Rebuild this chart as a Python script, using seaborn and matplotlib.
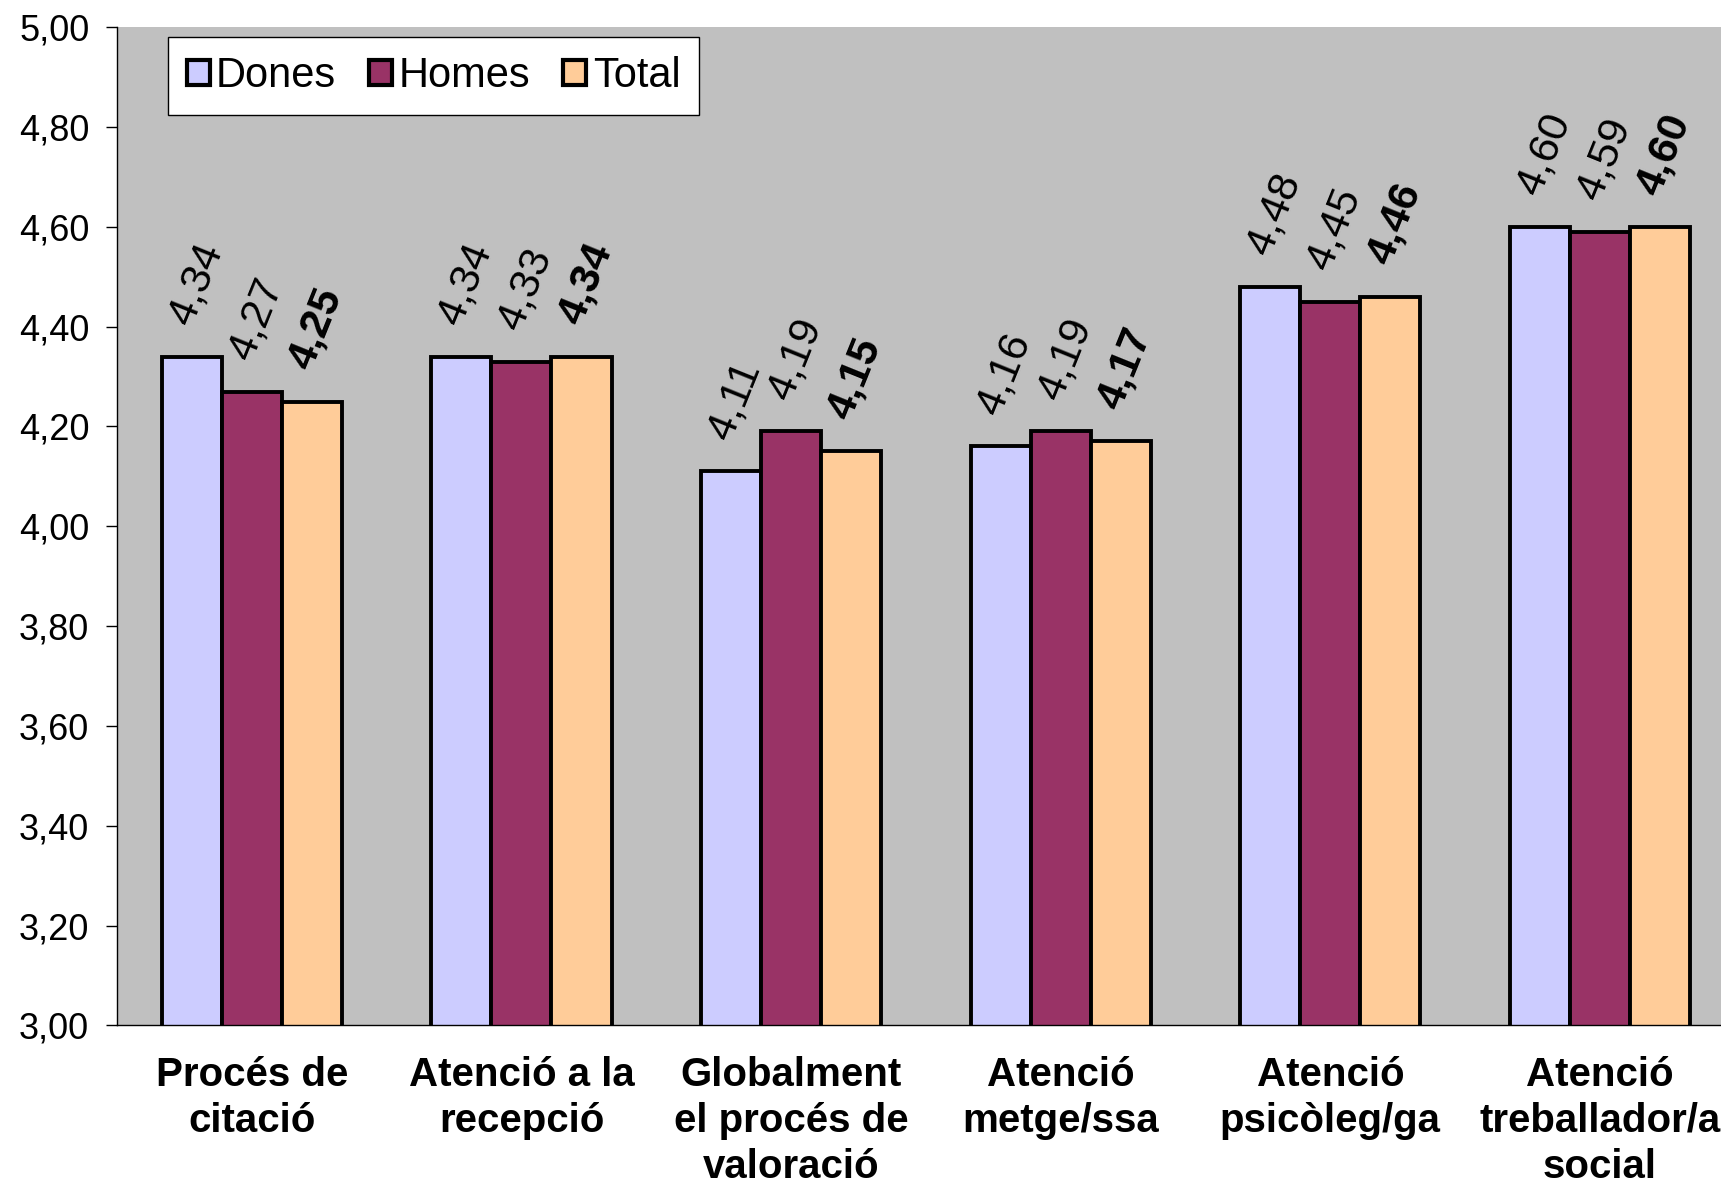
import numpy as np
import pandas as pd
import matplotlib
matplotlib.use("Agg")
import matplotlib.pyplot as plt
from matplotlib.patches import Patch
import seaborn as sns

# Values
categories = ["Procés de\ncitació", "Atenció a la\nrecepció", "Globalment\nel procés de\nvaloració",
              "Atenció\nmetge/ssa", "Atenció\npsicòleg/ga", "Atenció\ntreballador/a\nsocial"]
dones = [4.34, 4.34, 4.11, 4.16, 4.48, 4.60]
homes = [4.27, 4.33, 4.19, 4.19, 4.45, 4.59]
total = [4.25, 4.34, 4.15, 4.17, 4.46, 4.60]
series = ["Dones", "Homes", "Total"]
colors = ["#CCCCFF", "#993366", "#FFCC99"]
y_ticks = [3.0, 3.2, 3.4, 3.6, 3.8, 4.0, 4.2, 4.4, 4.6, 4.8, 5.0]

# Long form table for seaborn
df = pd.DataFrame({
    "cat": categories * 3,
    "serie": ["Dones"] * 6 + ["Homes"] * 6 + ["Total"] * 6,
    "valor": dones + homes + total,
})

sns.set_style("white")
plt.rcParams['font.family'] = ['Liberation Sans', 'DejaVu Sans']
plt.rcParams['text.color'] = 'black'
plt.rcParams['xtick.color'] = 'black'
plt.rcParams['ytick.color'] = 'black'

fig = plt.figure(figsize=(17.21, 11.84), dpi=100)
ax = fig.add_axes([0.068, 0.134, 0.940, 0.843])
ax.set_facecolor("#C0C0C0")

sns.barplot(data=df, x="cat", y="valor", hue="serie", order=categories, hue_order=series,
            palette=colors, saturation=1, width=0.668, gap=0, edgecolor="black",
            linewidth=2.8, legend=False, ax=ax, errorbar=None)

# Value labels, Total in bold
for cont, name in zip(ax.containers, series):
    for bar in cont:
        v = bar.get_height()
        ax.annotate(f"{v:.2f}".replace(".", ","),
                    xy=(bar.get_x() + bar.get_width() / 2, v),
                    xytext=(3, 19), textcoords="offset points",
                    ha="center", va="bottom", rotation=68, fontsize=31, color="black",
                    fontweight="bold" if name == "Total" else "normal")

ax.set_ylim(3, 5)
ax.set_xlim(-0.5, 5.5)
ax.set_yticks(y_ticks)
ax.set_yticklabels([f"{t:.2f}".replace(".", ",") for t in y_ticks], fontsize=26)
ax.set_xticks(range(len(categories)))
ax.set_xticklabels(categories, fontsize=29, fontweight="bold", linespacing=1.27)
ax.set_xticks(np.arange(-0.5, 6, 1), minor=True)
ax.tick_params(axis="x", which="major", length=0, pad=22)
ax.tick_params(axis="x", which="minor", length=9, width=1, direction="out", color="black")
ax.tick_params(axis="y", length=8, width=1, direction="out", color="black", pad=12, left=True)
ax.set_xlabel("")
ax.set_ylabel("")

for s in ["top", "right"]:
    ax.spines[s].set_visible(False)
for s in ["left", "bottom"]:
    ax.spines[s].set_color("black")
    ax.spines[s].set_linewidth(1)

handles = [Patch(facecolor=c, edgecolor="black", linewidth=3) for c in colors]
leg = ax.legend(handles, series, loc="upper left", bbox_to_anchor=(0.0315, 0.99),
                ncol=3, fontsize=30, frameon=True, fancybox=False, borderaxespad=0,
                handlelength=0.55, handleheight=0.55, handletextpad=0.15,
                columnspacing=0.8, borderpad=0.45)
leg.get_frame().set_edgecolor("black")
leg.get_frame().set_linewidth(1)
leg.get_frame().set_facecolor("white")
leg.get_frame().set_alpha(1)

fig.savefig("out.png", dpi=100)
